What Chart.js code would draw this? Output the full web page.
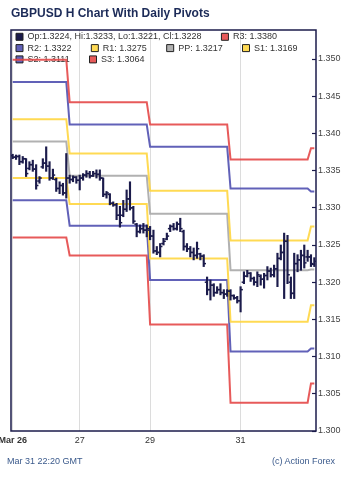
<!DOCTYPE html>
<html>
<head>
<meta charset="utf-8">
<script src="https://cdn.jsdelivr.net/npm/chart.js@4.4.1/dist/chart.umd.min.js"></script>
<style>
body{margin:0;background:#fff;}
#wrap{position:relative;width:350px;height:481px;}
.foot{position:absolute;top:456px;font:9px "Liberation Sans",Arial,sans-serif;line-height:10px;color:#3b5a8c;}
</style>
</head>
<body>
<div id="wrap">
<canvas id="pivotChart" width="350" height="481"></canvas>
<div class="foot" style="left:7px">Mar 31 22:20 GMT</div>
<div class="foot" style="right:15px">(c) Action Forex</div>
</div>
<script>
// hourly bars, Mar 26 04:00 .. Mar 31 22:00 GMT
const opens = [
1.3370,1.3368,1.3369,1.3362,1.3366,1.3353,1.3358,1.3352,1.3336,1.3355,
1.3360,1.3356,1.3340,1.3338,1.3326,1.3330,1.3320,1.3340,1.3338,1.3341,
1.3337,1.3340,1.3344,1.3346,1.3343,1.3346,1.3345,1.3340,1.3318,1.3318,
1.3306,1.3304,1.3290,1.3290,1.3298,1.3312,1.3300,1.3278,1.3268,1.3272,
1.3270,1.3270,1.3262,1.3242,1.3240,1.3252,1.3258,1.3272,1.3275,1.3272,
1.3278,1.3268,1.3248,1.3245,1.3240,1.3236,1.3238,1.3235,1.3200,1.3190,
1.3196,1.3186,1.3190,1.3186,1.3184,1.3188,1.3182,1.3179,1.3175,1.3200,
1.3208,1.3212,1.3205,1.3200,1.3208,1.3204,1.3209,1.3215,1.3210,1.3218,
1.3232,1.3240,1.3255,1.3200,1.3185,1.3225,1.3230,1.3236,1.3234,1.3234,
1.3224];
const highs = [
1.3372,1.3371,1.3371,1.3369,1.3366,1.3362,1.3364,1.3358,1.3342,1.3366,
1.3382,1.3362,1.3352,1.3340,1.3335,1.3333,1.3373,1.3344,1.3343,1.3342,
1.3344,1.3346,1.3350,1.3349,1.3349,1.3351,1.3351,1.3340,1.3322,1.3319,
1.3308,1.3306,1.3302,1.3310,1.3324,1.3335,1.3302,1.3279,1.3277,1.3279,
1.3277,1.3275,1.3270,1.3248,1.3252,1.3259,1.3266,1.3277,1.3279,1.3281,
1.3286,1.3270,1.3252,1.3248,1.3246,1.3254,1.3239,1.3237,1.3207,1.3203,
1.3198,1.3194,1.3198,1.3190,1.3190,1.3190,1.3183,1.3181,1.3194,1.3214,
1.3216,1.3213,1.3207,1.3214,1.3210,1.3212,1.3221,1.3219,1.3223,1.3239,
1.3250,1.3266,1.3263,1.3207,1.3239,1.3237,1.3243,1.3250,1.3243,1.3237,
1.3233];
const lows = [
1.3366,1.3365,1.3358,1.3360,1.3342,1.3351,1.3349,1.3325,1.3333,1.3353,
1.3349,1.3337,1.3338,1.3322,1.3319,1.3317,1.3313,1.3333,1.3335,1.3333,
1.3324,1.3337,1.3341,1.3340,1.3342,1.3340,1.3337,1.3315,1.3313,1.3304,
1.3302,1.3284,1.3274,1.3288,1.3295,1.3297,1.3279,1.3261,1.3266,1.3266,
1.3261,1.3257,1.3239,1.3237,1.3234,1.3250,1.3257,1.3268,1.3270,1.3270,
1.3268,1.3243,1.3241,1.3234,1.3230,1.3232,1.3230,1.3221,1.3183,1.3176,
1.3181,1.3185,1.3183,1.3178,1.3181,1.3176,1.3177,1.3172,1.3160,1.3198,
1.3207,1.3201,1.3196,1.3194,1.3196,1.3192,1.3203,1.3207,1.3207,1.3194,
1.3230,1.3178,1.3198,1.3178,1.3178,1.3214,1.3216,1.3219,1.3228,1.3221,
1.3221];
const closes = [
1.3368,1.3369,1.3362,1.3366,1.3346,1.3358,1.3352,1.3330,1.3340,1.3360,
1.3356,1.3340,1.3344,1.3326,1.3330,1.3320,1.3340,1.3338,1.3341,1.3337,
1.3340,1.3344,1.3346,1.3343,1.3346,1.3345,1.3340,1.3318,1.3320,1.3306,
1.3304,1.3290,1.3280,1.3298,1.3312,1.3300,1.3282,1.3268,1.3272,1.3270,
1.3272,1.3262,1.3242,1.3240,1.3248,1.3255,1.3262,1.3275,1.3272,1.3278,
1.3272,1.3248,1.3245,1.3240,1.3236,1.3245,1.3235,1.3225,1.3190,1.3196,
1.3186,1.3190,1.3186,1.3184,1.3188,1.3182,1.3179,1.3175,1.3190,1.3208,
1.3212,1.3205,1.3200,1.3210,1.3204,1.3209,1.3215,1.3210,1.3218,1.3232,
1.3240,1.3255,1.3210,1.3185,1.3225,1.3230,1.3236,1.3226,1.3234,1.3225,
1.3228];

// daily pivots, one value per pivot day, and bars covered by each day
const dayBars = [17, 24, 24, 24, 2];
const r3 = [1.3499, 1.3442, 1.3412, 1.3365, 1.3380];
const r2 = [1.3469, 1.3412, 1.3382, 1.3326, 1.3322];
const r1 = [1.3419, 1.3373, 1.3323, 1.3256, 1.3275];
const pp = [1.3389, 1.3343, 1.3292, 1.3216, 1.3217];
const s1 = [1.3340, 1.3305, 1.3232, 1.3147, 1.3169];
const s2 = [1.3310, 1.3276, 1.3203, 1.3107, 1.3111];
const s3 = [1.3260, 1.3236, 1.3143, 1.3038, 1.3064];

const xTickIdx = [0, 20, 41, 68];
const xTickLabels = ["Mar 26", "27", "29", "31"];
const yTicks = [1.300, 1.305, 1.310, 1.315, 1.320, 1.325, 1.330, 1.335, 1.340, 1.345, 1.350];

const navy = "#1b1b4b";
const font = "'Liberation Sans', Arial, sans-serif";
const gap = "       ";
const last = opens.length - 1;

function expand(levels){
    const out = [];
    levels.forEach((v, d) => {
        for(let k = 0; k < dayBars[d]; k++){
            out.push({x: out.length, y: v});
        }
    });
    return out;
}

function pivotLine(label, levels, color, pad){
    return {
        type: "line",
        label: label + ": " + levels[levels.length - 1].toFixed(4) + pad,
        data: expand(levels),
        borderColor: color,
        backgroundColor: color,
        borderWidth: 2,
        pointRadius: 0,
        tension: 0,
        order: 2
    };
}

const frame = {
    id: "frame",
    afterLayout(chart){
        // legend sits inside the plot box, a few px in from its left edge
        if(chart.legend){
            chart.legend.left = chart.chartArea.left + 2.7;
            chart.legend.right = chart.chartArea.right;
        }
    },
    afterDatasetsDraw(chart){
        const a = chart.chartArea;
        const c = chart.ctx;
        c.save();
        c.strokeStyle = navy;
        c.lineWidth = 1.5;
        c.strokeRect(a.left, a.top, a.right - a.left, a.bottom - a.top);
        c.restore();
    }
};

const ctx = document.getElementById("pivotChart");

const chart = new Chart(ctx, {

    type: "bar",

    data: {
        datasets: [
            {
                label: "Op:" + opens[last].toFixed(4) + ", Hi:" + highs[last].toFixed(4) +
                    ", Lo:" + lows[last].toFixed(4) + ", Cl:" + closes[last].toFixed(4) + gap,
                data: highs.map((h, i) => ({x: i, y: [lows[i], h]})),
                backgroundColor: navy,
                borderWidth: 0,
                barThickness: 1.5,
                order: 0
            },
            pivotLine("R3", r3, "rgba(228,72,72,0.9)", ""),
            pivotLine("R2", r2, "rgba(80,80,176,0.9)", gap),
            pivotLine("R1", r1, "rgba(255,214,64,0.9)", gap),
            pivotLine("PP", pp, "rgba(168,168,168,0.9)", gap),
            pivotLine("S1", s1, "rgba(255,214,64,0.9)", ""),
            pivotLine("S2", s2, "rgba(80,80,176,0.9)", gap),
            pivotLine("S3", s3, "rgba(228,72,72,0.9)", ""),
            {
                type: "line",
                label: "open",
                data: opens.map((v, i) => ({x: i - 0.3, y: v})),
                showLine: false,
                pointStyle: "line",
                pointRadius: 1.3,
                pointBorderWidth: 1.5,
                pointBorderColor: navy,
                order: 0
            },
            {
                type: "line",
                label: "close",
                data: closes.map((v, i) => ({x: i + 0.3, y: v})),
                showLine: false,
                pointStyle: "line",
                pointRadius: 1.3,
                pointBorderWidth: 1.5,
                pointBorderColor: navy,
                order: 0
            }
        ]
    },

    options: {
        responsive: false,
        animation: false,
        layout: {
            padding: {left: 11, right: 0, top: 0, bottom: 36}
        },
        plugins: {
            title: {
                display: true,
                text: "GBPUSD H Chart With Daily Pivots",
                align: "start",
                color: "#1c2b58",
                font: {family: font, size: 12, weight: "bold"},
                padding: {top: 6, bottom: 9.6}
            },
            legend: {
                position: "chartArea",
                fullSize: false,
                align: "start",
                labels: {
                    color: "#333",
                    font: {family: font, size: 9},
                    boxWidth: 7,
                    boxHeight: 7,
                    padding: 2.3,
                    filter: (item) => item.datasetIndex < 8,
                    generateLabels(chart){
                        const items = Chart.defaults.plugins.legend.labels.generateLabels(chart);
                        items.forEach((it) => {
                            it.strokeStyle = "#222";
                            it.lineWidth = 1;
                            it.lineDash = [];
                        });
                        return items;
                    }
                }
            },
            tooltip: {enabled: false}
        },
        scales: {
            x: {
                type: "linear",
                offset: false,
                min: -0.5,
                max: 90.5,
                afterBuildTicks(scale){
                    scale.ticks = xTickIdx.map((v) => ({value: v}));
                },
                afterFit(scale){
                    scale.height = 14;
                    scale.paddingLeft = 0;
                    scale.paddingRight = 0;
                },
                ticks: {
                    padding: 4,
                    maxRotation: 0,
                    autoSkip: false,
                    color: "#333",
                    font: (c) => ({family: font, size: 9, weight: c.tick && c.tick.value === 0 ? "bold" : "normal"}),
                    callback: (v) => xTickLabels[xTickIdx.indexOf(v)]
                },
                grid: {
                    offset: false,
                    color: "#dcdcdc",
                    drawTicks: false
                },
                border: {display: false}
            },
            y: {
                position: "right",
                min: 1.300,
                max: 1.3539,
                afterBuildTicks(scale){
                    scale.ticks = yTicks.map((v) => ({value: v}));
                },
                afterFit(scale){
                    scale.width = 34;
                },
                ticks: {
                    padding: 6,
                    color: "#444",
                    font: {family: font, size: 9},
                    callback: (v) => v.toFixed(3)
                },
                grid: {
                    drawOnChartArea: false,
                    tickLength: -4,
                    tickColor: navy,
                    tickWidth: 1.2
                },
                border: {display: false}
            }
        }
    },

    plugins: [frame]
});

// lay the legend out in rows inside the plot area
chart.legend.isHorizontal = () => true;
chart.update();
</script>
</body>
</html>
